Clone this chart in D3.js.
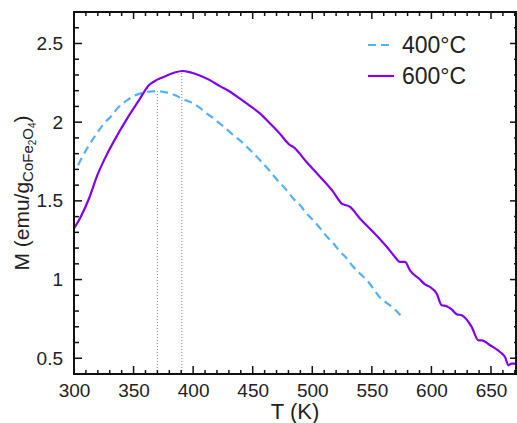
<!DOCTYPE html>
<html><head><meta charset="utf-8">
<script src="https://cdn.jsdelivr.net/npm/d3@7"></script>
<style>body{margin:0;background:#fff}svg{display:block}text{font-family:"Liberation Sans",Arial,sans-serif;fill:#222}</style>
</head><body><svg id="c" width="517" height="423"></svg>
<script>
const t400 = [303.4,307,312.6,318.2,325.2,330.8,336.4,344.7,350,356,361,367,370,375,381,386,391,396,400,406,411,417,422,428,434,440,445,451,456,462,467,472,476,484,490,495,501,507,512,518,523,529,534,540,546,551,557,561,565,570,574];
const m400 = [1.727,1.78,1.854,1.918,1.992,2.034,2.087,2.14,2.165,2.183,2.192,2.196,2.197,2.193,2.183,2.168,2.147,2.133,2.119,2.09,2.058,2.025,1.994,1.956,1.916,1.88,1.843,1.80,1.759,1.71,1.665,1.62,1.59,1.515,1.47,1.422,1.375,1.322,1.275,1.228,1.18,1.134,1.085,1.038,0.995,0.945,0.885,0.86,0.837,0.805,0.773];
const t600 = [300,305.6,312.6,319.6,328,336.4,344.7,354.6,363,368,373,378,384,391,397,406,414,422.5,431,439,448,456,464.5,473,481,484,495,506.5,517.6,524.7,531.7,540,551,562.5,569.4,573.6,577.8,582,590.4,594.6,598.8,604.4,608.6,612.8,617,621.2,625.4,633.8,639.4,642.2,649.2,657.6,661.8,664.6,667.4,672];
const m600 = [1.325,1.398,1.515,1.663,1.801,1.918,2.024,2.14,2.236,2.262,2.28,2.297,2.314,2.325,2.318,2.295,2.267,2.229,2.193,2.151,2.102,2.056,1.992,1.925,1.856,1.843,1.748,1.653,1.557,1.483,1.462,1.388,1.303,1.208,1.144,1.112,1.112,1.059,1.0,0.969,0.953,0.911,0.837,0.831,0.81,0.78,0.773,0.699,0.614,0.614,0.583,0.54,0.508,0.456,0.466,0.466];
const peakT = [370, 390.5];
const peakM = [2.197, 2.325];
const xTicks = [300,350,400,450,500,550,600,650];
const yTicks = [0.5,1,1.5,2,2.5];
const seriesNames = ["400°C","600°C"];

const L=74, R=516, T=12, B=374;
const x = d3.scaleLinear().domain([300,671]).range([L,R]);
const y = d3.scaleLinear().domain([0.4,2.7]).range([B,T]);
const svg = d3.select("#c");

svg.append("clipPath").attr("id","clip").append("rect").attr("x",L).attr("y",T).attr("width",R-L).attr("height",B-T);

const g = svg.append("g").attr("clip-path","url(#clip)");
peakT.forEach((pt,i)=>{
  g.append("line").attr("x1",x(pt)).attr("x2",x(pt)).attr("y1",y(0.4)).attr("y2",y(peakM[i]))
   .attr("stroke","#888").attr("stroke-width",1).attr("stroke-dasharray","1,2");
});

const line = d3.line().curve(d3.curveMonotoneX).x(d=>x(d[0])).y(d=>y(d[1]));
const d400 = t400.map((t,i)=>[t,m400[i]]);
const d600 = t600.map((t,i)=>[t,m600[i]]);
const colors = ["#55b0fb","#8000f5"];
g.append("path").attr("d",line(d400)).attr("fill","none").attr("stroke",colors[0]).attr("stroke-width",2.2).attr("stroke-dasharray","8,5");
g.append("path").attr("d",line(d600)).attr("fill","none").attr("stroke",colors[1]).attr("stroke-width",2.2);

const xMinor = d3.range(300,671,10);
const yMinor = d3.range(4,28).map(v=>v/10);
const ax = svg.append("g").attr("stroke","#111");
xMinor.forEach(v=>{
  const major = v%50===0;
  ax.append("line").attr("x1",x(v)).attr("x2",x(v)).attr("y1",B).attr("y2",B-(major?8:4)).attr("stroke-width",1.5);
  ax.append("line").attr("x1",x(v)).attr("x2",x(v)).attr("y1",T).attr("y2",T+(major?7:4)).attr("stroke-width",1.5);
});
yMinor.forEach(v=>{
  const major = Math.abs(v*2-Math.round(v*2))<1e-6;
  ax.append("line").attr("x1",L).attr("x2",L+(major?8:5)).attr("y1",y(v)).attr("y2",y(v)).attr("stroke-width",1.5);
  ax.append("line").attr("x1",R).attr("x2",R-(major?6:2)).attr("y1",y(v)).attr("y2",y(v)).attr("stroke-width",1.5);
});
svg.append("rect").attr("x",L).attr("y",T).attr("width",R-L).attr("height",B-T).attr("fill","none").attr("stroke","#111").attr("stroke-width",2);

const xAxis = svg.append("g").attr("transform",`translate(0,${B})`)
  .call(d3.axisBottom(x).tickValues(xTicks).tickSize(0).tickPadding(10).tickFormat(d3.format("d")));
xAxis.select(".domain").remove();
xAxis.selectAll("text").attr("font-size",19).attr("font-family","Liberation Sans, Arial, sans-serif").attr("fill","#222");
const yAxis = svg.append("g").attr("transform",`translate(${L},0)`)
  .call(d3.axisLeft(y).tickValues(yTicks).tickSize(0).tickPadding(11).tickFormat(d=>String(d)));
yAxis.select(".domain").remove();
yAxis.selectAll("text").attr("font-size",19).attr("font-family","Liberation Sans, Arial, sans-serif").attr("fill","#222");

svg.append("text").attr("x",(L+R)/2).attr("y",419).attr("text-anchor","middle").attr("font-size",22).text("T (K)");
const yl = svg.append("text").attr("transform",`translate(29,${(T+B)/2}) rotate(-90)`).attr("text-anchor","middle").attr("font-size",21);
yl.append("tspan").text("M (emu/g");
yl.append("tspan").attr("font-size",15).attr("dy",4).text("CoFe");
yl.append("tspan").attr("font-size",10).attr("dy",3).text("2");
yl.append("tspan").attr("font-size",15).attr("dy",-3).text("O");
yl.append("tspan").attr("font-size",10).attr("dy",3).text("4");
yl.append("tspan").attr("dy",-7).text(")");

const leg = svg.append("g");
seriesNames.forEach((n,i)=>{
  const yy = 45 + i*31;
  leg.append("line").attr("x1",368).attr("x2",394).attr("y1",yy).attr("y2",yy)
    .attr("stroke",colors[i]).attr("stroke-width",2.2).attr("stroke-dasharray",i===0?"8,5":null);
  leg.append("text").attr("x",402).attr("y",yy+8).attr("font-size",23).text(n);
});
</script></body></html>
